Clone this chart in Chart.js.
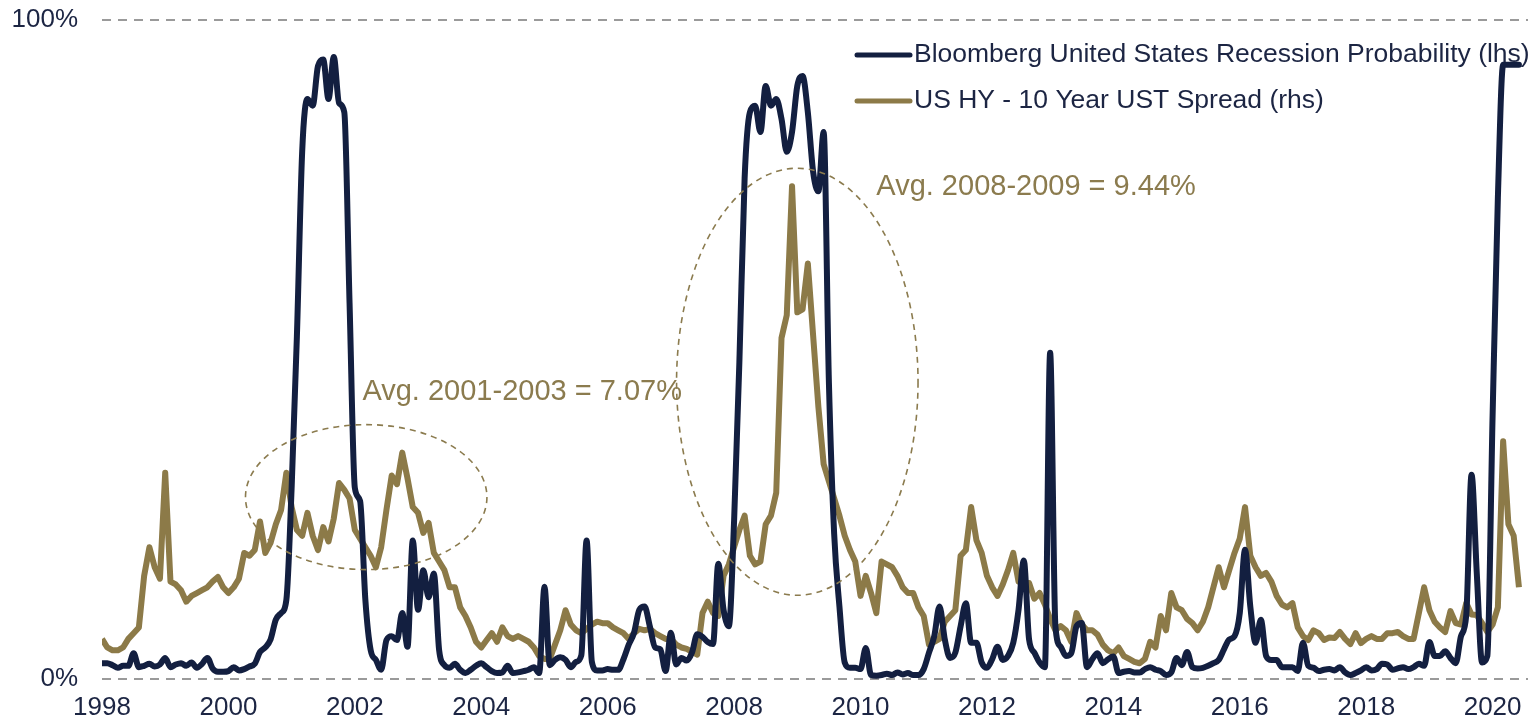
<!DOCTYPE html>
<html>
<head>
<meta charset="utf-8">
<script src="https://cdn.jsdelivr.net/npm/chart.js@4.4.0/dist/chart.umd.min.js"></script>
<style>
    html, body { margin: 0; padding: 0; background: #fff; }
</style>
</head>
<body>
<canvas id="myChart" width="1538" height="724"></canvas>
<script>
// monthly readings, Jan 1998 .. Jun 2020
const startYear = 1998

// Bloomberg US recession probability, % (lhs)
const recessionProb = [
    2.4, 2.4, 2.1, 1.7, 2.0, 2.0, 3.9, 1.8, 2.0, 2.3, 1.9, 2.2,      // 1998
    3.2, 1.8, 2.2, 2.4, 2.0, 2.5, 1.7, 2.3, 3.2, 1.6, 1.1, 1.1,      // 1999
    1.2, 1.8, 1.3, 1.5, 1.9, 2.3, 4.1, 4.8, 6.0, 9.0, 10.0, 12.0,    // 2000
    29, 52, 80, 88, 87, 93, 94, 88, 94.4, 87.4, 86, 57,              // 2001
    29, 27, 12, 4.4, 2.9, 1.4, 5.9, 6.5, 5.9, 10, 4.9, 21,           // 2002
    10.5, 16.5, 12.4, 16, 4.4, 2.1, 1.7, 2.3, 1.4, 0.9, 1.4, 2.0,    // 2003
    2.4, 1.8, 1.2, 0.9, 1.0, 2.0, 0.9, 1.0, 1.2, 1.4, 1.8, 0.9,      // 2004
    14, 2.1, 2.9, 3.3, 2.9, 1.8, 2.6, 3.6, 21, 2.6, 1.3, 1.3,        // 2005
    1.5, 1.4, 1.4, 3.0, 5.2, 7.0, 10.5, 11.0, 8.0, 4.8, 4.5, 1.2,    // 2006
    7.0, 2.2, 3.2, 2.8, 4.0, 6.8, 6.4, 5.6, 5.3, 17.5, 10.5, 8.0,    // 2007
    24, 48, 76, 86, 87, 83, 90, 87, 88, 85, 80, 83,                  // 2008
    90, 91.5, 86, 77, 74, 83, 45, 22, 11, 2.5, 1.7, 1.7,             // 2009
    1.5, 4.7, 0.6, 0.5, 0.6, 0.8, 0.6, 1.0, 0.7, 0.9, 0.6, 0.6,      // 2010
    1.5, 4.0, 6.5, 11.0, 6.0, 3.2, 4.0, 8.0, 11.5, 5.5, 5.5, 2.5,    // 2011
    1.7, 3.0, 4.9, 2.9, 3.5, 5.5, 10.5, 18.0, 6.0, 4.0, 2.5, 1.8,    // 2012
    49.5, 8.0, 4.9, 3.5, 3.9, 8.0, 8.5, 1.8, 3.0, 3.9, 2.4, 3.0,     // 2013
    3.4, 0.9, 1.1, 1.2, 1.0, 1.0, 1.5, 1.8, 1.4, 1.2, 0.6, 1.0,      // 2014
    3.2, 2.1, 4.1, 1.8, 1.6, 1.7, 2.0, 2.4, 2.9, 4.5, 6.0, 6.5,      // 2015
    10, 19.6, 11, 5.5, 9.0, 3.5, 2.9, 2.9, 1.8, 1.8, 1.8, 1.2,       // 2016
    5.5, 2.0, 1.7, 1.2, 1.4, 1.5, 1.3, 1.8, 1.0, 0.6, 0.9, 1.3,      // 2017
    1.8, 1.3, 1.5, 2.3, 2.2, 1.4, 1.6, 1.8, 1.5, 1.8, 2.3, 2.0,      // 2018
    5.6, 3.5, 3.5, 4.2, 3.2, 2.4, 6.5, 9.7, 31, 16, 2.5, 3.5,        // 2019
    40, 73, 93.2, 93.2, 93.2, 93.2                                   // 2020
]

// US HY minus 10y UST yield, % (rhs)
const hySpread = [
    3.4, 3.1, 3.0, 3.0, 3.1, 3.4, 3.6, 3.8, 5.6, 6.6, 5.9, 5.5,      // 1998
    9.2, 5.4, 5.3, 5.1, 4.7, 4.9, 5.0, 5.1, 5.2, 5.4, 5.56, 5.2,     // 1999
    5.0, 5.2, 5.5, 6.4, 6.3, 6.5, 7.5, 6.4, 6.75, 7.4, 7.9, 9.2,     // 2000
    8.0, 7.2, 7.0, 7.8, 7.0, 6.5, 7.3, 6.8, 7.6, 8.84, 8.6, 8.3,     // 2001
    7.2, 6.9, 6.6, 6.3, 5.9, 6.6, 7.9, 9.1, 8.8, 9.9, 9.0, 8.0,      // 2002
    7.8, 7.1, 7.45, 6.4, 6.1, 5.8, 5.2, 5.2, 4.5, 4.2, 3.8, 3.3,     // 2003
    3.1, 3.35, 3.6, 3.3, 3.8, 3.5, 3.4, 3.5, 3.4, 3.3, 3.1, 2.8,     // 2004
    2.7, 2.7, 3.2, 3.7, 4.4, 3.9, 3.7, 3.6, 3.75, 3.9, 4.0, 3.95,    // 2005
    3.95, 3.8, 3.7, 3.6, 3.4, 3.6, 3.75, 3.7, 3.75, 3.6, 3.5, 3.4,   // 2006
    3.4, 3.2, 3.1, 3.05, 2.95, 2.85, 4.3, 4.7, 4.3, 4.2, 5.6, 6.0,   // 2007
    6.6, 7.2, 7.7, 6.3, 6.0, 6.1, 7.4, 7.7, 8.5, 13.9, 14.7, 19.2,   // 2008
    14.8, 14.9, 16.5, 14.0, 11.5, 9.5, 8.9, 8.3, 7.7, 7.0, 6.5, 6.1, // 2009
    4.9, 5.6, 5.0, 4.3, 6.1, 6.0, 5.9, 5.6, 5.2, 5.0, 5.0, 4.5,      // 2010
    4.2, 3.2, 3.3, 3.4, 4.0, 4.2, 4.4, 6.3, 6.5, 8.0, 6.85, 6.4,     // 2011
    5.6, 5.2, 4.9, 5.3, 5.8, 6.4, 5.4, 5.3, 5.35, 4.8, 5.0, 4.6,     // 2012
    4.1, 3.7, 3.85, 3.7, 3.3, 4.3, 3.9, 3.7, 3.7, 3.55, 3.2, 3.0,    // 2013
    2.9, 3.1, 2.8, 2.7, 2.6, 2.55, 2.7, 3.3, 3.1, 4.2, 3.7, 5.0,     // 2014
    4.5, 4.4, 4.1, 3.95, 3.7, 4.0, 4.5, 5.2, 5.9, 5.2, 5.8, 6.4,     // 2015
    6.9, 8.0, 6.3, 5.9, 5.6, 5.7, 5.4, 4.9, 4.6, 4.5, 4.65, 3.8,     // 2016
    3.5, 3.36, 3.7, 3.6, 3.36, 3.45, 3.43, 3.64, 3.4, 3.22, 3.6, 3.25, // 2017
    3.4, 3.5, 3.4, 3.4, 3.6, 3.6, 3.64, 3.5, 3.4, 3.4, 4.3, 5.2,     // 2018
    4.4, 4.0, 3.8, 3.64, 4.37, 3.95, 3.9, 4.65, 4.25, 4.23, 3.95, 3.64, // 2019
    3.9, 4.5, 10.3, 7.4, 7.0, 5.2                                    // 2020
]

const yearTicks = [1998, 2000, 2002, 2004, 2006, 2008, 2010, 2012, 2014, 2016, 2018, 2020]
const probTicks = [0, 100]
const seriesNames = [
    'Bloomberg United States Recession Probability (lhs)',
    'US HY - 10 Year UST Spread (rhs)'
]
const noteTexts = ['Avg. 2001-2003 = 7.07%', 'Avg. 2008-2009 = 9.44%']

const months = recessionProb.map((_, i) => startYear + i / 12)

const navy = '#131f40'
const gold = '#8c7a48'
const noteGold = '#8b7b4e'
const textColor = '#1c2543'
const fontFamily = '"Liberation Sans", Arial, sans-serif'

Chart.defaults.font.family = fontFamily

// dashed ovals + notes, placed in data units (years, lhs %)
const ovals = [
    { x: 2002.18, y: 27.6, rx: 1.91, ry: 11.0 },
    { x: 2009.0, y: 45.1, rx: 1.91, ry: 32.4 }
]
const notes = [
    { text: noteTexts[0], x: 2002.12, y: 43.6 },
    { text: noteTexts[1], x: 2010.25, y: 74.7 }
]

const overlay = {
    id: 'overlay',
    afterDraw(chart) {
        const ctx = chart.ctx
        const xs = chart.scales.x
        const ys = chart.scales.y
        ctx.save()

        ctx.strokeStyle = noteGold
        ctx.lineWidth = 1.6
        ctx.setLineDash([6, 5])
        ovals.forEach(o => {
            const cx = xs.getPixelForValue(o.x)
            const cy = ys.getPixelForValue(o.y)
            const rx = Math.abs(xs.getPixelForValue(o.x + o.rx) - cx)
            const ry = Math.abs(ys.getPixelForValue(o.y + o.ry) - cy)
            ctx.beginPath()
            ctx.ellipse(cx, cy, rx, ry, 0, 0, Math.PI * 2)
            ctx.stroke()
        })

        ctx.setLineDash([])
        ctx.fillStyle = noteGold
        ctx.font = '29px ' + fontFamily
        ctx.textAlign = 'left'
        ctx.textBaseline = 'middle'
        notes.forEach(n => {
            ctx.fillText(n.text, xs.getPixelForValue(n.x), ys.getPixelForValue(n.y))
        })

        // legend, top right
        ctx.font = '26.5px ' + fontFamily
        ctx.lineWidth = 5
        ctx.lineCap = 'round'
        chart.data.datasets.forEach((ds, i) => {
            const rowY = 55 + i * 46
            ctx.strokeStyle = ds.borderColor
            ctx.beginPath()
            ctx.moveTo(857, rowY)
            ctx.lineTo(910, rowY)
            ctx.stroke()
            ctx.fillStyle = textColor
            ctx.fillText(ds.label, 914, rowY)
        })
        ctx.restore()
    }
}

const config = {
    type: 'line',
    data: {
        labels: months,
        datasets: [{
            label: seriesNames[0],
            data: recessionProb,
            yAxisID: 'y',
            borderColor: navy,
            borderWidth: 6,
            pointRadius: 0,
            cubicInterpolationMode: 'monotone',
            borderJoinStyle: 'round',
            borderCapStyle: 'round',
            fill: false
        }, {
            label: seriesNames[1],
            data: hySpread,
            yAxisID: 'y2',
            borderColor: gold,
            borderWidth: 6,
            pointRadius: 0,
            tension: 0,
            borderJoinStyle: 'round',
            fill: false
        }]
    },
    options: {
        responsive: false,
        animation: false,
        layout: {
            padding: { top: 20, right: 10, left: 0, bottom: 0 }
        },
        scales: {
            x: {
                type: 'linear',
                min: 1998,
                max: 2020.56,
                afterBuildTicks: (axis) => {
                    axis.ticks = yearTicks.map(v => ({ value: v }))
                },
                afterFit: (scale) => { scale.height = 45 },
                grid: { display: false, drawTicks: false },
                border: { display: false },
                ticks: {
                    padding: 13,
                    color: textColor,
                    font: { size: 26 },
                    maxRotation: 0,
                    autoSkip: false,
                    callback: (v) => String(v)
                }
            },
            y: {
                min: 0,
                max: 100,
                afterBuildTicks: (axis) => {
                    axis.ticks = probTicks.map(v => ({ value: v }))
                },
                afterFit: (scale) => {
                    scale.width = 102
                    scale.paddingTop = 0
                    scale.paddingBottom = 0
                },
                grid: { color: '#9a9a9a', lineWidth: 2, drawTicks: false },
                border: { display: false, dash: [9, 7] },
                ticks: {
                    padding: 24,
                    color: textColor,
                    font: { size: 26 },
                    callback: (v) => v + '%'
                }
            },
            y2: {
                position: 'right',
                display: false,
                min: 2,
                max: 25
            }
        },
        plugins: {
            legend: { display: false },
            tooltip: { enabled: false }
        }
    },
    plugins: [overlay]
}

const myChart = new Chart(document.getElementById('myChart'), config)
</script>
</body>
</html>
